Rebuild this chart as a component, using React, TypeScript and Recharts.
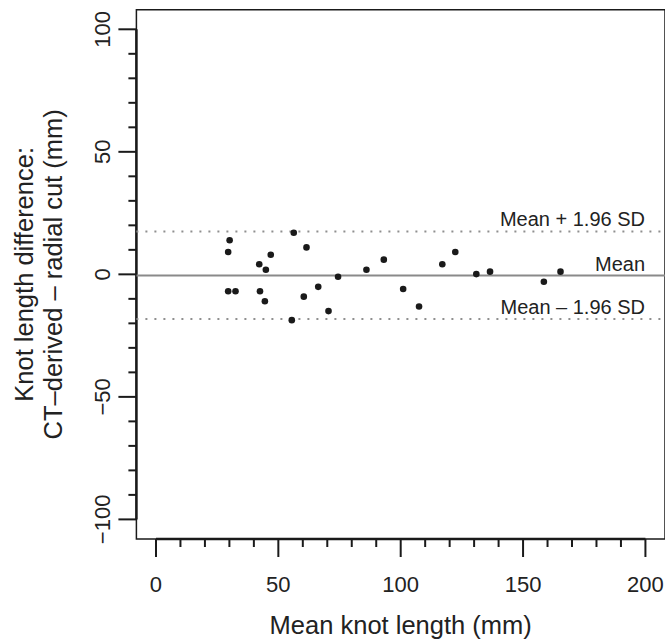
import React from 'react';
import { ScatterChart, Scatter, XAxis, YAxis, ReferenceLine, ReferenceArea } from 'recharts';

// ---- data ----
const meanKnotLength = [30.1, 29.5, 29.5, 32.5, 42.2, 44.9, 46.9, 42.5, 44.5, 56.3, 55.5, 61.5, 60.4, 66.3, 70.5, 74.4, 86.0, 93.1, 101.0, 107.5, 117.0, 122.3, 130.9, 136.5, 158.5, 165.3];
const lengthDifference = [13.9, 9.1, -6.9, -6.9, 4.1, 1.9, 8.0, -6.9, -11.0, 17.0, -18.7, 11.0, -9.1, -5.1, -15.0, -1.0, 1.9, 6.0, -6.0, -13.1, 4.1, 9.1, 0.1, 1.1, -3.0, 1.1];
const meanDifference = -0.5;
const upperLimit = 17.5;
const lowerLimit = -18.2;
const limitLabels = ['Mean + 1.96 SD', 'Mean', 'Mean \u2013 1.96 SD'];

const xTicks = [0, 10, 20, 30, 40, 50, 60, 70, 80, 90, 100, 110, 120, 130, 140, 150, 160, 170, 180, 190, 200];
const xMajorTicks = [0, 50, 100, 150, 200];
const yTicks = [-100, -90, -80, -70, -60, -50, -40, -30, -20, -10, 0, 10, 20, 30, 40, 50, 60, 70, 80, 90, 100];
const yMajorTicks = [-100, -50, 0, 50, 100];

const xTitle = 'Mean knot length (mm)';
const yTitleLines = ['Knot length difference:', 'CT\u2013derived \u2013 radial cut (mm)'];

const points = meanKnotLength.map((x, i) => ({ x, y: lengthDifference[i] }));

const FONT = '"Liberation Sans", Arial, Helvetica, sans-serif';
const INK = '#1a1a1a';
const TEXT = '#222';

const fmt = (v: number) => String(v).replace('-', '\u2212');

const XTick = (props: any) => {
  const { x, y, payload } = props;
  const major = xMajorTicks.includes(payload.value);
  return (
    <g>
      <line x1={x} x2={x} y1={y} y2={y + (major ? 18 : 8)} stroke={INK} strokeWidth={2} />
      {major && (
        <text x={x} y={y + 53} textAnchor="middle" fontSize={22} fill={TEXT} fontFamily={FONT}>
          {fmt(payload.value)}
        </text>
      )}
    </g>
  );
};

const YTick = (props: any) => {
  const { x, y, payload } = props;
  const major = yMajorTicks.includes(payload.value);
  const tx = x - 26.5;
  return (
    <g>
      <line x1={x} x2={x - (major ? 18 : 8)} y1={y} y2={y} stroke={INK} strokeWidth={2} />
      {major && (
        <text x={tx} y={y} transform={`rotate(-90 ${tx} ${y})`} textAnchor="middle" fontSize={22} fill={TEXT} fontFamily={FONT}>
          {fmt(payload.value)}
        </text>
      )}
    </g>
  );
};

const limitLabel = (text: string) => (props: any) => {
  const vb = props.viewBox || {};
  const right = vb.x + vb.width - 20;
  return (
    <text x={right} y={vb.y - 5} textAnchor="end" fontSize={20} fill={TEXT} fontFamily={FONT}>
      {text}
    </text>
  );
};

const XTitle = (props: any) => {
  const vb = props.viewBox || {};
  return (
    <text x={vb.x + vb.width / 2} y={vb.y + 95} textAnchor="middle" fontSize={25.5} fill={TEXT} fontFamily={FONT}>
      {xTitle}
    </text>
  );
};

const YTitle = (props: any) => {
  const vb = props.viewBox || {};
  const cy = vb.y + vb.height / 2;
  const xs = [33, 62];
  return (
    <g>
      {yTitleLines.map((t, i) => (
        <text key={i} x={xs[i]} y={cy} transform={`rotate(-90 ${xs[i]} ${cy})`} textAnchor="middle" fontSize={25.5} fill={TEXT} fontFamily={FONT}>
          {t}
        </text>
      ))}
    </g>
  );
};

const Dot = (props: any) => <circle cx={props.cx} cy={props.cy} r={3.3} fill={INK} />;

export default function App() {
  return (
    <div style={{ position: 'absolute', left: 0, top: 0, width: 665, height: 644, background: '#fff' }}>
      <ScatterChart width={665} height={644} margin={{ top: 9.7, right: 0, bottom: 0, left: 0 }}>
        <XAxis
          type="number"
          dataKey="x"
          domain={[-8, 208]}
          ticks={xTicks}
          interval={0}
          allowDataOverflow
          tickSize={0}
          tickMargin={0}
          axisLine={false}
          tickLine={false}
          tick={<XTick />}
          height={105}
          label={<XTitleLabel />}
        />
        <YAxis
          type="number"
          dataKey="y"
          domain={[-108, 108]}
          ticks={yTicks}
          interval={0}
          allowDataOverflow
          tickSize={0}
          tickMargin={0}
          axisLine={false}
          tickLine={false}
          tick={<YTick />}
          width={136.4}
          label={<YTitleLabel />}
        />
        <ReferenceArea x1={-8} x2={208} y1={-108} y2={108} fill="none" fillOpacity={0} stroke={INK} strokeWidth={1.5} ifOverflow="visible" />
        <ReferenceLine segment={[{ x: -8, y: -100 }, { x: -8, y: 100 }]} stroke={INK} strokeWidth={2.5} ifOverflow="visible" />
        <ReferenceLine segment={[{ x: 0, y: -108 }, { x: 200, y: -108 }]} stroke={INK} strokeWidth={2.5} ifOverflow="visible" />
        <ReferenceLine y={upperLimit} stroke="#8f8f8f" strokeWidth={2} strokeDasharray="2 7" label={limitLabel(limitLabels[0])} />
        <ReferenceLine y={meanDifference} stroke="#8a8a8a" strokeWidth={2} label={limitLabel(limitLabels[1])} />
        <ReferenceLine y={lowerLimit} stroke="#8f8f8f" strokeWidth={2} strokeDasharray="2 7" label={limitLabel(limitLabels[2])} />
        <Scatter data={points} dataKey="y" isAnimationActive={false} shape={<Dot />} />
      </ScatterChart>
    </div>
  );
}

function XTitleLabel(props: any) {
  return <XTitle {...props} />;
}
function YTitleLabel(props: any) {
  return <YTitle {...props} />;
}
